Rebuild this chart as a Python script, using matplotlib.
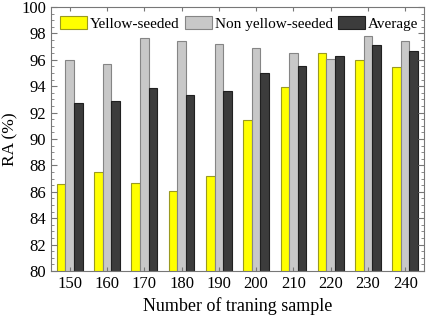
import matplotlib
matplotlib.use("Agg")
import matplotlib.pyplot as plt
import numpy as np
from matplotlib.ticker import MultipleLocator

plt.rcParams['font.family'] = ['Liberation Serif', 'DejaVu Serif']

samples = [150, 160, 170, 180, 190, 200, 210, 220, 230, 240]
yellow = [86.55, 87.5, 86.65, 86.05, 87.2, 91.45, 93.95, 96.55, 96.0, 95.45]
non_yellow = [95.95, 95.65, 97.65, 97.4, 97.2, 96.9, 96.5, 96.05, 97.8, 97.4]
average = [92.7, 92.9, 93.85, 93.35, 93.65, 95.0, 95.55, 96.25, 97.15, 96.7]
labels = ["Yellow-seeded", "Non yellow-seeded", "Average"]

fig = plt.figure(figsize=(4.29, 3.18), dpi=100)
ax = fig.add_axes([0.119, 0.148, 0.869, 0.830])

x = np.array(samples, dtype=float)
w = 2.3
ax.bar(x - w, yellow, w, color='#FFFF00', edgecolor='#9a9a20', linewidth=0.8, label=labels[0])
ax.bar(x, non_yellow, w, color='#C8C8C8', edgecolor='#858585', linewidth=0.8, label=labels[1])
ax.bar(x + w, average, w, color='#3C3C3C', edgecolor='#202020', linewidth=0.8, label=labels[2])

ax.set_xlim(145, 245)
ax.set_ylim(80, 100)
ax.set_xticks(samples)
ax.set_yticks(np.arange(80, 101, 2))
ax.yaxis.set_minor_locator(MultipleLocator(0.5))
ax.tick_params(axis='both', which='both', direction='in', top=True, right=True,
               labelsize=12, color='#777777')
ax.tick_params(axis='both', which='major', length=4)
ax.tick_params(axis='both', which='minor', length=2)
ax.tick_params(axis='x', which='major', length=3)
for s in ax.spines.values():
    s.set_color('#777777')
ax.set_xlabel("Number of traning sample", fontsize=13, labelpad=4)
ax.set_ylabel("RA (%)", fontsize=12.5, labelpad=2)

ax.legend(loc='upper left', ncol=3, frameon=False, fontsize=11,
          handlelength=1.75, handleheight=0.95, handletextpad=0.2, columnspacing=0.35,
          borderaxespad=0.3, borderpad=0.3, bbox_to_anchor=(0.0, 1.0))

fig.savefig("out.png", dpi=100)
